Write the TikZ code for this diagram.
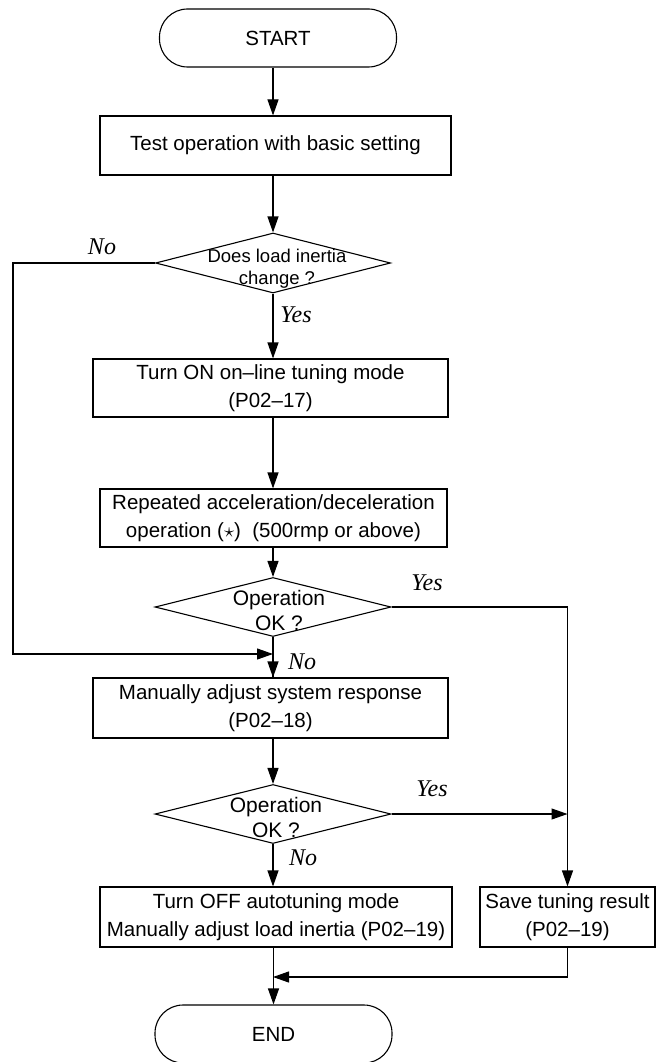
\documentclass[tikz,border=0pt]{standalone}
\usepackage{fontspec}
\setmainfont{Liberation Sans}
\newfontfamily\ynfont{Liberation Serif}
\usetikzlibrary{arrows.meta,shapes.geometric}

\begin{document}
\begin{tikzpicture}[x=1pt,y=-1pt,line width=1.1pt,
  box/.style={draw,rectangle,inner sep=0pt,align=center,font=\fontsize{20.5}{28}\selectfont},
  term/.style={draw,rectangle,rounded corners=28pt,inner sep=0pt,minimum width=237pt,minimum height=58pt,font=\fontsize{20.5}{28}\selectfont},
  decision/.style={draw,diamond,inner sep=0pt,minimum width=236pt,minimum height=59pt},
  qtext/.style={align=center,font=\fontsize{21}{25}\selectfont},
  yn/.style={font=\fontsize{24}{24}\selectfont\ynfont\itshape},
  arr/.style={-{Triangle[length=16pt,width=11pt]}}]
\useasboundingbox (0,0) rectangle (658,1062);

\node[term] (start) at (278,38) {START};
\node[box,minimum width=351pt,minimum height=59pt] (basic) at (275.5,145.5) {Test operation with basic setting};

\node[decision,minimum width=235pt,minimum height=60pt] (q1) at (273,263) {};
\node[align=center,font=\fontsize{18.5}{22}\selectfont] (q1txt) at (277,269) {Does load inertia\\change ?};

\node[box,minimum width=355pt,minimum height=58pt] (online) at (270.5,388) {Turn ON on\textendash line tuning mode\\(P02\textendash 17)};
\node[box,minimum width=347pt,minimum height=58pt] (accel) at (273.5,518) {Repeated acceleration/deceleration\\operation ($\star$)\ \ (500rmp or above)};

\node[decision] (q2) at (273,607) {};
\node[qtext] (q2txt) at (279,610.5) {Operation\\OK ?};

\node[box,minimum width=355pt,minimum height=60pt] (manual) at (270.5,708) {Manually adjust system response\\(P02\textendash 18)};

\node[decision] (q3) at (273,814) {};
\node[qtext] (q3txt) at (276,817.5) {Operation\\OK ?};

\node[box,minimum width=352pt,minimum height=60pt] (off) at (276,917) {Turn OFF autotuning mode\\Manually adjust load inertia (P02\textendash 19)};
\node[box,minimum width=175pt,minimum height=60pt] (save) at (567.5,917) {Save tuning result\\(P02\textendash 19)};

\node[term] (finish) at (273.5,1034) {END};

\coordinate (loopin) at (13,654);
\coordinate (join) at (273,977);

\node[yn] (no1) at (102,247) {No};
\node[yn] (yes1) at (296,315) {Yes};
\node[yn] (yes2) at (427,583) {Yes};
\node[yn] (no2) at (302,662) {No};
\node[yn] (yes3) at (432,789) {Yes};
\node[yn] (no3) at (303,858) {No};

\draw[arr] (start.south -| q1) -- (q1 |- basic.north);
\draw[arr] (basic.south -| q1) -- (q1.north);
\draw[arr] (q1.south) -- (q1.south |- online.north);
\draw[arr] (online.south -| q2) -- (q2 |- accel.north);
\draw[arr] (accel.south -| q2) -- (q2.north);
\draw (q2.south) -- (q2.south |- manual.north);
\draw[arr] (loopin -| q2) -- (q2 |- manual.north);
\draw[arr] (q1.west) -| (loopin) -- (loopin -| q2);
\draw[arr] (manual.south -| q3) -- (q3.north);
\draw[arr] (q3.south) -- (q3.south |- off.north);
\draw[arr] (q2.east) -| (save.north);
\draw[arr] (q3.east) -- (q3.east -| save);
\draw[arr] (finish |- off.south) -- (finish.north);
\draw[arr] (save.south) |- (join);
\end{tikzpicture}
\end{document}
